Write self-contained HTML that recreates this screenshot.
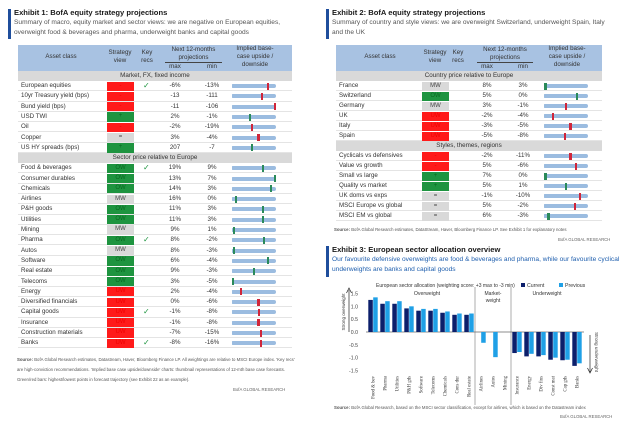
<!DOCTYPE html>
<html><head><meta charset="utf-8">
<style>
body{margin:0;background:#fff;width:624px;height:433px;overflow:hidden;position:relative;font-family:"Liberation Sans",sans-serif;color:#333}
.a{position:absolute;white-space:nowrap}
.t{font-weight:bold;font-size:7.6px;color:#1a1a1a}
.s{font-size:6.6px;color:#555;line-height:9.5px;white-space:normal}
.hd{background:#a8c2e2;position:absolute}
.ht{position:absolute;font-size:6.2px;color:#333;text-align:center;line-height:8px}
.sec{background:#d9d9d9;position:absolute;font-size:6.3px;text-align:center;line-height:9px;color:#333}
.cell{position:absolute;font-size:6.2px;color:#333}
.src{font-size:4.3px;color:#555;line-height:10px;white-space:normal}
</style></head><body>
<div class="a" style="left:8px;top:9px;width:2.5px;height:30px;background:#1f4e9c"></div>
<div class="a t" style="left:14px;top:8px">Exhibit 1: BofA equity strategy projections</div>
<div class="a s" style="left:14px;top:18px;width:280px">Summary of macro, equity market and sector views: we are negative on European equities, overweight food &amp; beverages and pharma, underweight banks and capital goods</div>
<div id="t1"></div>
<div class="a src" style="left:17px;top:355px;width:280px"><b>Source:</b> BofA Global Research estimates, Datastream, Haver, Bloomberg Finance LP. All weightings are relative to MSCI Europe index. 'Key recs' are high-conviction recommendations. 'Implied base case upside/downside' charts: thumbnail representations of 12-mth base case forecasts. Green/red bars: highest/lowest points in forecast trajectory (see Exhibit 22 as an example).</div>
<div class="a" style="left:233px;top:387px;font-size:4.3px;color:#666">BofA GLOBAL RESEARCH</div>

<div class="a" style="left:326px;top:9px;width:2.5px;height:30px;background:#1f4e9c"></div>
<div class="a t" style="left:332px;top:8px">Exhibit 2: BofA equity strategy projections</div>
<div class="a s" style="left:332px;top:18px;width:285px">Summary of country and style views: we are overweight Switzerland, underweight Spain, Italy and the UK</div>
<div id="t2"></div>
<div class="a src" style="left:334px;top:225px;width:285px"><b>Source:</b> BofA Global Research estimates, DataStream, Haver, Bloomberg Finance LP. See Exhibit 1 for explanatory notes</div>
<div class="a" style="left:558px;top:237px;font-size:4.3px;color:#666">BofA GLOBAL RESEARCH</div>

<div class="a" style="left:326px;top:246px;width:2.5px;height:31px;background:#1f4e9c"></div>
<div class="a t" style="left:332px;top:245px">Exhibit 3: European sector allocation overview</div>
<div class="a s" style="left:332px;top:255px;width:290px;color:#1f5fae">Our favourite defensive overweights are food &amp; beverages and pharma, while our favourite cyclical underweights are banks and capital goods</div>
<svg id="ch" class="a" style="left:0;top:0" width="624" height="433"></svg>
<div class="a src" style="left:334px;top:403px;width:290px"><b>Source:</b> BofA Global Research, based on the MSCI sector classification, except for airlines, which is based on the Datastream index</div>
<div class="a" style="left:560px;top:414px;font-size:4.3px;color:#666">BofA GLOBAL RESEARCH</div>

<script>
const COL={red:'#ff1a1a',green:'#1e9440',gray:'#d9d9d9'};
// [name, view, color, key, max, min, markerFrac, markerColor]
const t1s1=[["European equities","-","red",1,"-6%","-13%",0.82,"r"],["10yr Treasury yield (bps)","-","red",0,"-13","-111",0.68,"r"],["Bund yield (bps)","-","red",0,"-11","-106",0.98,"r"],["USD TWI","+","green",0,"2%","-1%",0.4,"g"],["Oil","-","red",0,"-2%","-19%",0.45,"r"],["Copper","=","gray",0,"3%","-4%",0.6,"r"],["US HY spreads (bps)","+","green",0,"207","-7",0.45,"g"]];
const t1s2=[["Food & beverages","OW","green",1,"19%","9%",0.7,"g"],["Consumer durables","OW","green",0,"13%","7%",0.98,"g"],["Chemicals","OW","green",0,"14%","3%",0.88,"g"],["Airlines","MW","gray",0,"16%","0%",0.08,"g"],["P&H goods","OW","green",0,"11%","3%",0.7,"g"],["Utilities","OW","green",0,"11%","3%",0.7,"g"],["Mining","MW","gray",0,"9%","1%",0.05,"g"],["Pharma","OW","green",1,"8%","-2%",0.72,"g"],["Autos","MW","gray",0,"8%","-3%",0.05,"g"],["Software","OW","green",0,"6%","-4%",0.82,"g"],["Real estate","OW","green",0,"9%","-3%",0.5,"g"],["Telecoms","OW","green",0,"3%","-5%",0.02,"g"],["Energy","UW","red",0,"2%","-4%",0.2,"r"],["Diversified financials","UW","red",0,"0%","-6%",0.6,"r"],["Capital goods","UW","red",1,"-1%","-8%",0.62,"r"],["Insurance","UW","red",0,"-1%","-8%",0.6,"r"],["Construction materials","UW","red",0,"-7%","-15%",0.66,"r"],["Banks","UW","red",1,"-8%","-16%",0.66,"r"]];
const t2s1=[["France","MW","gray",0,"8%","3%",0.03,"g"],["Switzerland","OW","green",0,"5%","0%",0.75,"g"],["Germany","MW","gray",0,"3%","-1%",0.5,"r"],["UK","UW","red",0,"-2%","-4%",0.2,"r"],["Italy","UW","red",0,"-3%","-5%",0.6,"r"],["Spain","UW","red",0,"-5%","-8%",0.48,"r"]];
const t2s2=[["Cyclicals vs defensives","-","red",0,"-2%","-11%",0.6,"r"],["Value vs growth","-","red",0,"5%","-6%",0.73,"r"],["Small vs large","+","green",0,"7%","0%",0.03,"g"],["Quality vs market","+","green",0,"5%","1%",0.5,"g"],["UK doms vs exps","=","gray",0,"-1%","-10%",0.82,"r"],["MSCI Europe vs global","=","gray",0,"5%","-2%",0.7,"r"],["MSCI EM vs global","=","gray",0,"6%","-3%",0.1,"g"]];

function el(html){const d=document.createElement('div');d.innerHTML=html;return d.firstChild;}
function table(host,L,R,c,s1name,s1,s2name,s2,rh){
  const h=document.getElementById(host);
  const add=(x)=>{h.appendChild(x);return x;};
  const hd=add(el(`<div class="hd" style="left:${L}px;top:45px;width:${R-L}px;height:26px"></div>`));
  
  
  const heads=[[c.name-40,80,'Asset class',53],[c.view-18,36,'Strategy<br>view',49],[c.key-12,24,'Key<br>recs',49],[c.max-12,c.min-c.max+24,'Next 12-months<br>projections',46],[c.max-12,24,'max',63],[c.min-12,24,'min',63],[c.sp-8,62,'Implied base-<br>case upside /<br>downside',45]];
  heads.forEach(a=>{const e=add(el(`<div class="ht" style="left:${a[0]}px;top:${a[3]}px;width:${a[1]}px">${a[2]}</div>`));
    
    });
  add(el(`<div class="a" style="left:${c.max-10}px;top:62px;width:${c.min-c.max+20}px;height:0.7px;background:#444"></div>`));
  let y=71;
  const sec=(name)=>{const e=add(el(`<div class="sec" style="left:${L}px;top:${y}px;width:${R-L}px;height:10px">${name}</div>`));
    
    y+=10;};
  const rows=(arr)=>arr.forEach(r=>{
    const cy=y+rh/2;
    const row=add(el(`<div class="a" style="left:${L}px;top:${y}px;width:${R-L}px;height:${rh}px;border-bottom:0.6px solid #e4e4e4;box-sizing:border-box"></div>`));
    
    
    add(el(`<div class="cell" style="left:${L+3}px;top:${cy-4}px">${r[0].replace('&','&amp;')}</div>`));
    const b=add(el(`<div class="a" style="left:${c.view-13}px;top:${y+0.5}px;width:27px;height:${rh-1}px;background:${COL[r[2]]};font-size:6px;text-align:center;line-height:${rh-1}px;color:${r[2]=='gray'?'#444':(r[2]=='red'?'#e00':'#0a6a22')}">${r[1]}</div>`));
    
    
    if(r[3]){const k=add(el(`<div class="a" style="left:${c.key-4}px;top:${cy-5}px;font-size:8px;color:#1e9440">✓</div>`));
      
      }
    add(el(`<div class="cell" style="left:${c.max-15}px;width:30px;text-align:center;top:${cy-4}px">${r[4]}</div>`));
    add(el(`<div class="cell" style="left:${c.min-15}px;width:30px;text-align:center;top:${cy-4}px">${r[5]}</div>`));
    const w=44,x0=c.sp,mx=x0+r[6]*w;
    const sp=add(el(`<div class="a" style="left:${x0}px;top:${y}px;width:${w+2}px;height:${rh}px"><div style="position:absolute;left:0;top:${rh/2-2}px;width:${w}px;height:4px;background:#9bbce0;border-radius:1px 3px 3px 1px"></div><div style="position:absolute;left:${mx-x0-1}px;top:${rh/2-3.5}px;width:2.2px;height:7px;background:${r[7]=='r'?'#d0263a':'#2a8a5a'}"></div></div>`));
    
    
    y+=rh;});
  sec(s1name);rows(s1);sec(s2name);rows(s2);
}
table('t1',18,292,{name:61,view:120,key:147,max:175,min:212,sp:232},'Market, FX, fixed income',t1s1,'Sector price relative to Europe',t1s2,10.3);
table('t2',336,602,{name:380,view:435,key:458,max:487,min:523,sp:544},'Country price relative to Europe',t2s1,'Styles, themes, regions',t2s2,10);

// chart data
const cats=["Food & bev","Pharma","Utilities","P&H gds","Software","Telecoms","Chemicals","Cons dur","Real estate","Airlines","Autos","Mining","Insurance","Energy","Div fins","Const mat","Cap gds","Banks"];
const current=[1.25,1.1,1.1,0.92,0.83,0.83,0.75,0.67,0.67,0,0,0,-0.82,-0.95,-0.95,-1.08,-1.1,-1.32];
const previous=[1.35,1.2,1.2,1.0,0.9,0.9,0.8,0.72,0.72,-0.42,-0.98,0,-0.78,-0.85,-0.9,-1.0,-1.08,-1.22];
const yTicks=[1.5,1.0,0.5,0.0,-0.5,-1.0,-1.5];
const yLabels=["1.5","1.0","0.5","0.0","-0.5","-1.0","-1.5"];
const NS='http://www.w3.org/2000/svg';
const svg=document.getElementById('ch');
const yS=v=>332-v*(38.5/1.5);
const xS=i=>373+i*12;
function mk(t,a){const e=document.createElementNS(NS,t);for(const k in a)e.setAttribute(k,a[k]);svg.appendChild(e);return e;}
yTicks.forEach((v,i)=>{const t=mk('text',{x:358,y:yS(v)+2,'font-size':5.2,'text-anchor':'end',fill:'#444','font-family':'Liberation Sans'});t.textContent=yLabels[i];
  
  });
const z=mk('line',{x1:366,x2:584,y1:yS(0),y2:yS(0),stroke:'#666','stroke-width':0.7});


[xS(8.5),xS(11.5)].forEach(x=>{const l=mk('line',{x1:x,x2:x,y1:287,y2:405,stroke:'#777','stroke-width':0.6});
  
  });
cats.forEach((c,i)=>{
  const x=xS(i);
  [[current[i],'#0c1f6b',-4.7],[previous[i],'#1fa0e6',0.2]].forEach(([v,col,dx])=>{
    const r=mk('rect',{x:x+dx,y:Math.min(yS(v),yS(0)),width:4.5,height:Math.abs(yS(v)-yS(0)),fill:col});
    
    });
  const t=mk('text',{x:0,y:0,'font-size':4.8,fill:'#333','text-anchor':'end','font-family':'Liberation Serif',transform:`translate(${x+1.5},376) rotate(-90)`});
  t.textContent=c;
  
  
});
const texts=[[376,287,'European sector allocation (weighting score: +3 max to -3 min)','start',5.0],[427,295,'Overweight','middle',5.2],[xS(10),295,'Market-','middle',5],[xS(10),302,'weight','middle',5],[547,295,'Underweight','middle',5.2],[527,287,'Current','start',5.2],[565,287,'Previous','start',5.2]];
texts.forEach(a=>{const t=mk('text',{x:a[0],y:a[1],'font-size':a[4],'text-anchor':a[3],fill:'#333','font-family':'Liberation Sans'});t.textContent=a[2];
  
  });
const lc=mk('rect',{x:521,y:283,width:4,height:4,fill:'#0c1f6b'});


const lp=mk('rect',{x:559,y:283,width:4,height:4,fill:'#1fa0e6'});


mk('line',{x1:349,x2:349,y1:290,y2:332,stroke:'#222','stroke-width':0.7});
mk('path',{d:'M346.5 293 L349 288 L351.5 293',fill:'none',stroke:'#222','stroke-width':0.7});
const so=mk('text',{x:0,y:0,'font-size':4.6,fill:'#333','text-anchor':'middle',transform:'translate(345,312) rotate(-90)','font-family':'Liberation Sans'});so.textContent='Strong overweight';


mk('line',{x1:590,x2:590,y1:335,y2:372,stroke:'#222','stroke-width':0.7});
mk('path',{d:'M587.5 368 L590 373 L592.5 368',fill:'none',stroke:'#222','stroke-width':0.7});
const su=mk('text',{x:0,y:0,'font-size':4.6,fill:'#333','text-anchor':'middle',transform:'translate(595,352) rotate(90)','font-family':'Liberation Sans'});su.textContent='Strong underweight';


</script>
</body></html>
